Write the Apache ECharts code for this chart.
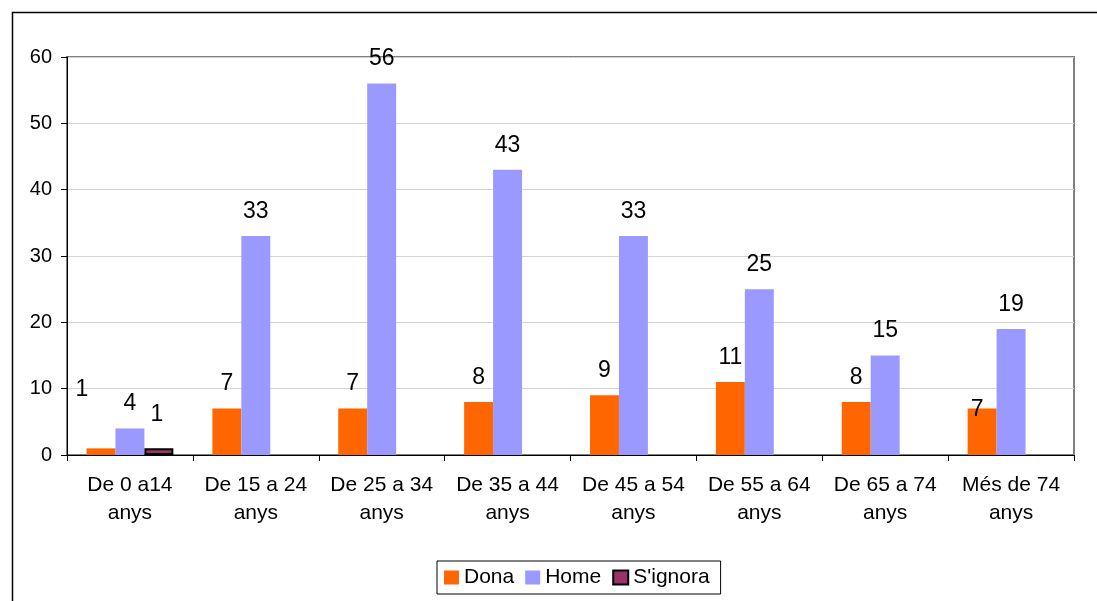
<!DOCTYPE html>
<html><head><meta charset="utf-8">
<script src="https://cdn.jsdelivr.net/npm/echarts@6/dist/echarts.min.js"></script>
<style>html,body{margin:0;padding:0;background:#fff}#c{width:1097px;height:601px}</style>
</head><body><div id="c"></div>
<script>
const categories = ['De 0 a14\nanys','De 15 a 24\nanys','De 25 a 34\nanys','De 35 a 44\nanys','De 45 a 54\nanys','De 55 a 64\nanys','De 65 a 74\nanys','Més de 74\nanys'];
const dona = [1, 7, 7, 8, 9, 11, 8, 7];
const home = [4, 33, 56, 43, 33, 25, 15, 19];
const signora = [1, null, null, null, null, null, null, null];
const yTicks = [0, 10, 20, 30, 40, 50, 60];

const font = 'Liberation Sans, Arial, sans-serif';
const chart = echarts.init(document.getElementById('c'));
const lbl = {show:true, position:'top', distance:13, color:'#000', fontSize:23, fontFamily:font};
function items(arr, special){
  return arr.map((v,i)=>{
    if (v === null) return null;
    const it = {value:v};
    if (special && special[i]) it.label = special[i];
    return it;
  });
}
chart.setOption({
  animation:false,
  textStyle:{fontFamily:font},
  graphic:[{type:'rect', shape:{x:12.5,y:12.5,width:1100,height:600}, style:{fill:'none', stroke:'#000', lineWidth:1.5}, z:-1}],
  grid:{left:67, right:23, top:57, bottom:146, show:true, borderColor:'#808080', borderWidth:2, backgroundColor:'transparent'},
  legend:{top:561, left:437, itemWidth:15, itemHeight:14, itemGap:11, padding:[6,11,6,7], borderColor:'#000', borderWidth:1, borderRadius:0,
    textStyle:{fontSize:21, color:'#000', fontFamily:font},
    data:[{name:'Dona', icon:'rect'},{name:'Home', icon:'rect'},{name:"S'ignora", icon:'rect'}]},
  xAxis:{type:'category', data:categories,
    axisLine:{lineStyle:{color:'#000', width:1}},
    axisTick:{show:true, interval:0, length:6, lineStyle:{color:'#000'}},
    axisLabel:{color:'#000', interval:0, fontSize:21, lineHeight:28, margin:16, fontFamily:font}},
  yAxis:{type:'value', min:0, max:60, interval:10,
    axisLine:{show:true, lineStyle:{color:'#000', width:1}},
    axisTick:{show:true, length:6, lineStyle:{color:'#000'}},
    axisLabel:{color:'#000', fontSize:20, margin:15, fontFamily:font, formatter:v=>yTicks.includes(v)?String(v):''},
    splitLine:{lineStyle:{color:'#d4d4d4', width:1}}},
  series:[
    {name:'Dona', type:'bar', barGap:'0%', barCategoryGap:'31%', itemStyle:{color:'#FF6600'}, label:lbl,
      data:items(dona,{0:{offset:[-19,-34]}, 7:{offset:[-5,26]}})},
    {name:'Home', type:'bar', itemStyle:{color:'#9999FF'}, label:lbl,
      data:items(home,{0:{offset:[0,0]}})},
    {name:"S'ignora", type:'bar', itemStyle:{color:'#993366', borderColor:'#000', borderWidth:2}, label:lbl,
      data:items(signora,{0:{offset:[-2,-9]}})}
  ]
});
</script></body></html>
